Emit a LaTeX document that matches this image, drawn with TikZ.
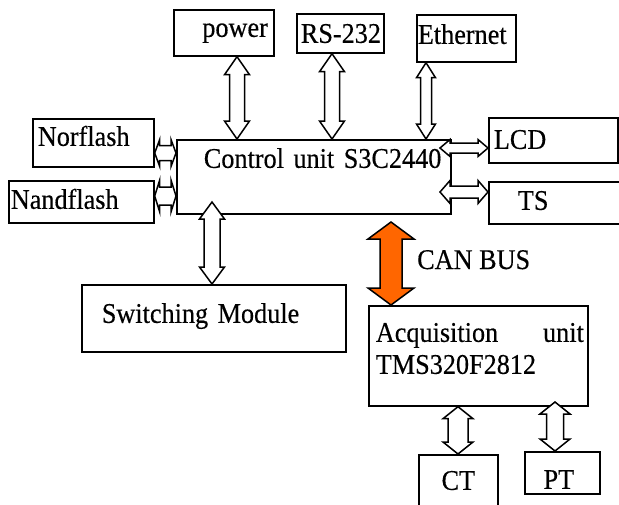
\documentclass[tikz,border=0pt]{standalone}
\usepackage{fontspec}
\setmainfont{Liberation Serif}[FakeStretch=0.92, FakeBold=0.4]
\usepackage{xcolor}
\usetikzlibrary{calc, positioning}
\definecolor{canorange}{HTML}{FF6600}

% hollow double arrow: [fill]{from}{to}{half shaft}{half head}{head length}
\newcommand{\dblarrow}[6][white]{%
  \draw[arr, fill=#1] (#2)
    -- ($(#2)!#6pt!(#3)!#5pt!90:(#3)$) -- ($(#2)!#6pt!(#3)!#4pt!90:(#3)$)
    -- ($(#3)!#6pt!(#2)!#4pt!-90:(#2)$) -- ($(#3)!#6pt!(#2)!#5pt!-90:(#2)$)
    -- (#3)
    -- ($(#3)!#6pt!(#2)!#5pt!90:(#2)$) -- ($(#3)!#6pt!(#2)!#4pt!90:(#2)$)
    -- ($(#2)!#6pt!(#3)!#4pt!-90:(#3)$) -- ($(#2)!#6pt!(#3)!#5pt!-90:(#3)$)
    -- cycle;}

\begin{document}
\begin{tikzpicture}[x=1pt, y=-1pt,
    blk/.style={draw, line width=1.7pt, inner sep=0pt, anchor=north west, align=left,
      font=\fontsize{28.5}{32}\selectfont},
    arr/.style={draw, line width=1.5pt, line join=miter}]
    \useasboundingbox (0,0) rectangle (619,504);
    % Khối trên
    \node[blk, align=right, text width=100pt, text height=27pt, text depth=19pt] (power) at (173,9) {power\kern6pt};
    \node[blk, text width=87pt, text height=29pt, text depth=10pt] (rs) at (296,13) {\kern4pt RS-232};
    \node[blk, text width=99pt, text height=29pt, text depth=18pt] (eth) at (416,14) {\kern1pt Ethernet};
    % Khối trái và phải
    \node[blk, text width=121pt, text height=27pt, text depth=21pt] (nor) at (32,118) {\kern5pt Norflash};
    \node[blk, text width=145pt, text height=28pt, text depth=14pt] (nand) at (8,180) {\kern2pt Nandflash};
    \node[blk, text width=274pt, text height=28pt, text depth=46pt] (ctrl) at (176,139) {\kern27pt Control unit S3C2440};
    \node[blk, text width=129pt, text height=31pt, text depth=14pt] (lcd) at (488,117) {\kern5pt LCD};
    \node[blk, text width=131pt, text height=28pt, text depth=14pt] (ts) at (488,181) {\kern29pt TS};
    % Khối dưới
    \node[blk, text width=264pt, text height=38pt, text depth=29pt] (sw) at (81,284) {\kern20pt Switching Module};
    \node[blk, text width=219pt, text height=36pt, text depth=64pt] (acq) at (368,305)
        {\hspace*{7pt}\makebox[208pt][l]{Acquisition\hfill unit}\\\hspace*{7pt}TMS320F2812};
    \node[blk, align=center, text width=79pt, text height=35pt, text depth=25pt] (ct) at (418,454) {CT};
    \node[blk, align=center, text width=75pt, text height=37pt, text depth=5pt] (pt) at (524,451) {PT\kern7pt};
    \node[font=\fontsize{28.5}{32}\selectfont, anchor=base west, inner sep=0pt] (can) at (417,269) {CAN BUS};

    % Điểm đầu mũi tên
    \coordinate (pwA) at (237,0 |- power.south);  \coordinate (pwB) at (237,0 |- ctrl.north);
    \coordinate (rsA) at (332,0 |- rs.south);     \coordinate (rsB) at (332,0 |- ctrl.north);
    \coordinate (ethA) at (426,0 |- eth.south);   \coordinate (ethB) at (426,0 |- ctrl.north);
    \coordinate (norA) at (nor.east |- 0,153);    \coordinate (norB) at (ctrl.west |- 0,153);
    \coordinate (nandA) at (nand.east |- 0,196);  \coordinate (nandB) at (ctrl.west |- 0,196);
    \coordinate (lcdA) at (440,148);              \coordinate (lcdB) at (lcd.west |- 0,148);
    \coordinate (tsA) at (440,192);               \coordinate (tsB) at (ts.west |- 0,192);
    \coordinate (swA) at (212,202);               \coordinate (swB) at (212,0 |- sw.north);
    \coordinate (canA) at (391,222);              \coordinate (canB) at (391,0 |- acq.north);
    \coordinate (ctA) at (458,0 |- acq.south);    \coordinate (ctB) at (458,0 |- ct.north);
    \coordinate (ptA) at (555,402);               \coordinate (ptB) at (555,0 |- pt.north);

    % Mũi tên hai chiều
    \dblarrow{pwA}{pwB}{7.5}{12.5}{18}
    \dblarrow{rsA}{rsB}{7.5}{12.5}{18}
    \dblarrow{ethA}{ethB}{5.5}{9.5}{15}
    \dblarrow{norA}{norB}{7.5}{13.5}{5}
    \dblarrow{nandA}{nandB}{9}{16}{5}
    \dblarrow{lcdA}{lcdB}{5}{8.5}{10}
    \dblarrow{tsA}{tsB}{6}{11.5}{10}
    \dblarrow{swA}{swB}{8}{12.5}{17}
    \dblarrow[canorange]{canA}{canB}{11}{23}{17}
    \dblarrow{ctA}{ctB}{10}{15}{12}
    \dblarrow{ptA}{ptB}{8.5}{15}{12}
\end{tikzpicture}
\end{document}
